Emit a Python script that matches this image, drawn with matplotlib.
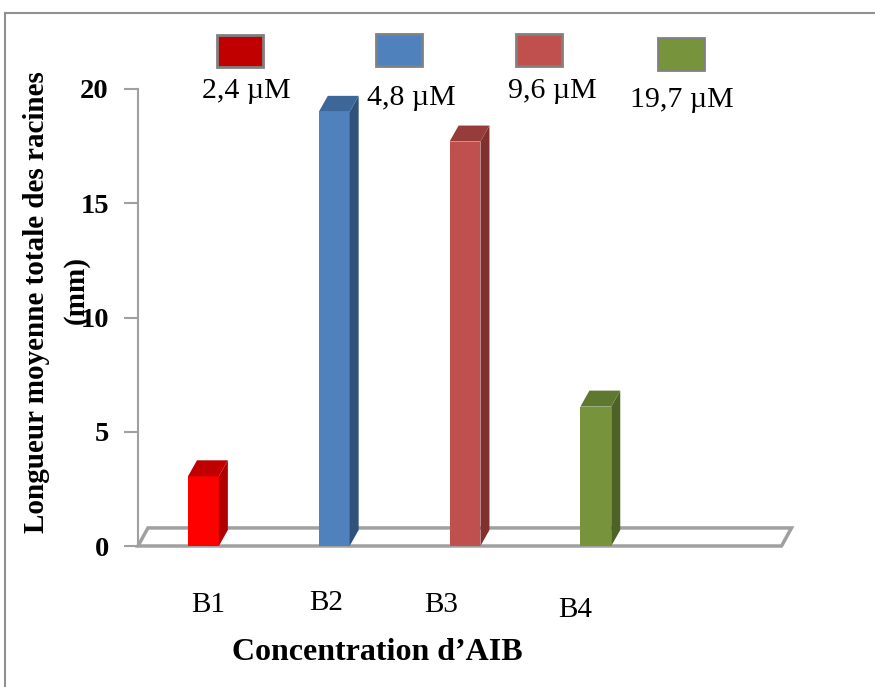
import matplotlib.pyplot as plt
from matplotlib.patches import Polygon, Rectangle
from matplotlib.lines import Line2D

plt.rcParams["font.family"] = ["Liberation Serif", "DejaVu Serif"]

categories = ["B1", "B2", "B3", "B4"]
values = [3.05, 19.0, 17.7, 6.1]
legend_labels = ["2,4 \u00b5M", "4,8 \u00b5M", "9,6 \u00b5M", "19,7 \u00b5M"]
front_colors = ["#FF0000", "#4F81BD", "#C0504D", "#77933C"]
side_colors = ["#B00000", "#30527A", "#82302E", "#4E6228"]
top_colors = ["#C00000", "#3D6699", "#963C3A", "#5F7830"]
legend_colors = ["#C00000", "#4F81BD", "#C0504D", "#77933C"]

W, H = 875, 687
fig = plt.figure(figsize=(W / 100, H / 100), dpi=100)


def fx(px):
    return px / W


def fy(py):
    return 1 - py / H


ax = fig.add_axes([fx(138), fy(546), fx(792) - fx(138), fy(89) - fy(546)])
ax.set_xlim(-0.5, 4.5)
ax.set_ylim(0, 20)

grey = "#A0A0A0"
# floor of the 3D chart
fdx, fdy = 0.076, 0.79
floor = Polygon([(-0.5, 0), (4.42, 0), (4.42 + fdx, fdy), (-0.5 + fdx, fdy)],
                closed=True, facecolor="white", edgecolor=grey, lw=2.5,
                clip_on=False, zorder=1)
ax.add_patch(floor)

bw = 0.236
dx, dy = 0.069, 0.7
for i, v in enumerate(values):
    x0, x1 = i - bw / 2, i + bw / 2
    ax.bar(i, v, width=bw, color=front_colors[i], zorder=3, clip_on=False)
    ax.add_patch(Polygon([(x1, 0), (x1 + dx, dy), (x1 + dx, v + dy), (x1, v)],
                         closed=True, facecolor=side_colors[i], lw=0, zorder=3, clip_on=False))
    ax.add_patch(Polygon([(x0, v), (x1, v), (x1 + dx, v + dy), (x0 + dx, v + dy)],
                         closed=True, facecolor=top_colors[i], lw=0, zorder=3, clip_on=False))

for s in ["top", "right", "bottom"]:
    ax.spines[s].set_visible(False)
ax.spines["left"].set_color(grey)
ax.spines["left"].set_linewidth(1.5)
ax.set_xticks([])
ax.set_yticks([0, 5, 10, 15, 20])
ax.tick_params(axis="y", length=10, width=1.5, color=grey, pad=11, labelsize=20.5)
for t in ax.get_yticklabels():
    t.set_fontweight("bold")

# category labels (free text boxes in the original)
cat_pos = [(208, 612), (326, 610), (441, 612), (575, 617)]
for lab, (px, py) in zip(categories, cat_pos):
    fig.text(fx(px), fy(py), lab, ha="center", va="baseline", fontsize=21)

fig.text(fx(377), fy(660), "Concentration d\u2019AIB", ha="center", va="baseline",
         fontsize=23, fontweight="bold")

fig.text(fx(37), fy(302), "Longueur moyenne totale des racines", rotation=90,
         ha="center", va="center", fontsize=21, fontweight="bold")
fig.text(fx(76), fy(290), "(mm)", rotation=90, ha="center", va="center",
         fontsize=21, fontweight="bold")

# legend
sq_pos = [(217, 35), (376, 34), (516, 34), (658, 38)]
lab_pos = [(246, 98), (411, 105), (552, 98), (682, 107)]
for i in range(4):
    px, py = sq_pos[i]
    fig.add_artist(Rectangle((fx(px), fy(py + 32)), fx(46), 32 / H,
                             facecolor=legend_colors[i], edgecolor="#808080", lw=2))
    lx, ly = lab_pos[i]
    fig.text(fx(lx), fy(ly), legend_labels[i], ha="center", va="baseline", fontsize=21.5)

# outer border
fig.add_artist(Line2D([fx(5), fx(5)], [fy(13), 0], color="#909090", lw=1.5))
fig.add_artist(Line2D([fx(5), 1], [fy(13), fy(13)], color="#909090", lw=1.5))

fig.savefig("out.png", dpi=100)
